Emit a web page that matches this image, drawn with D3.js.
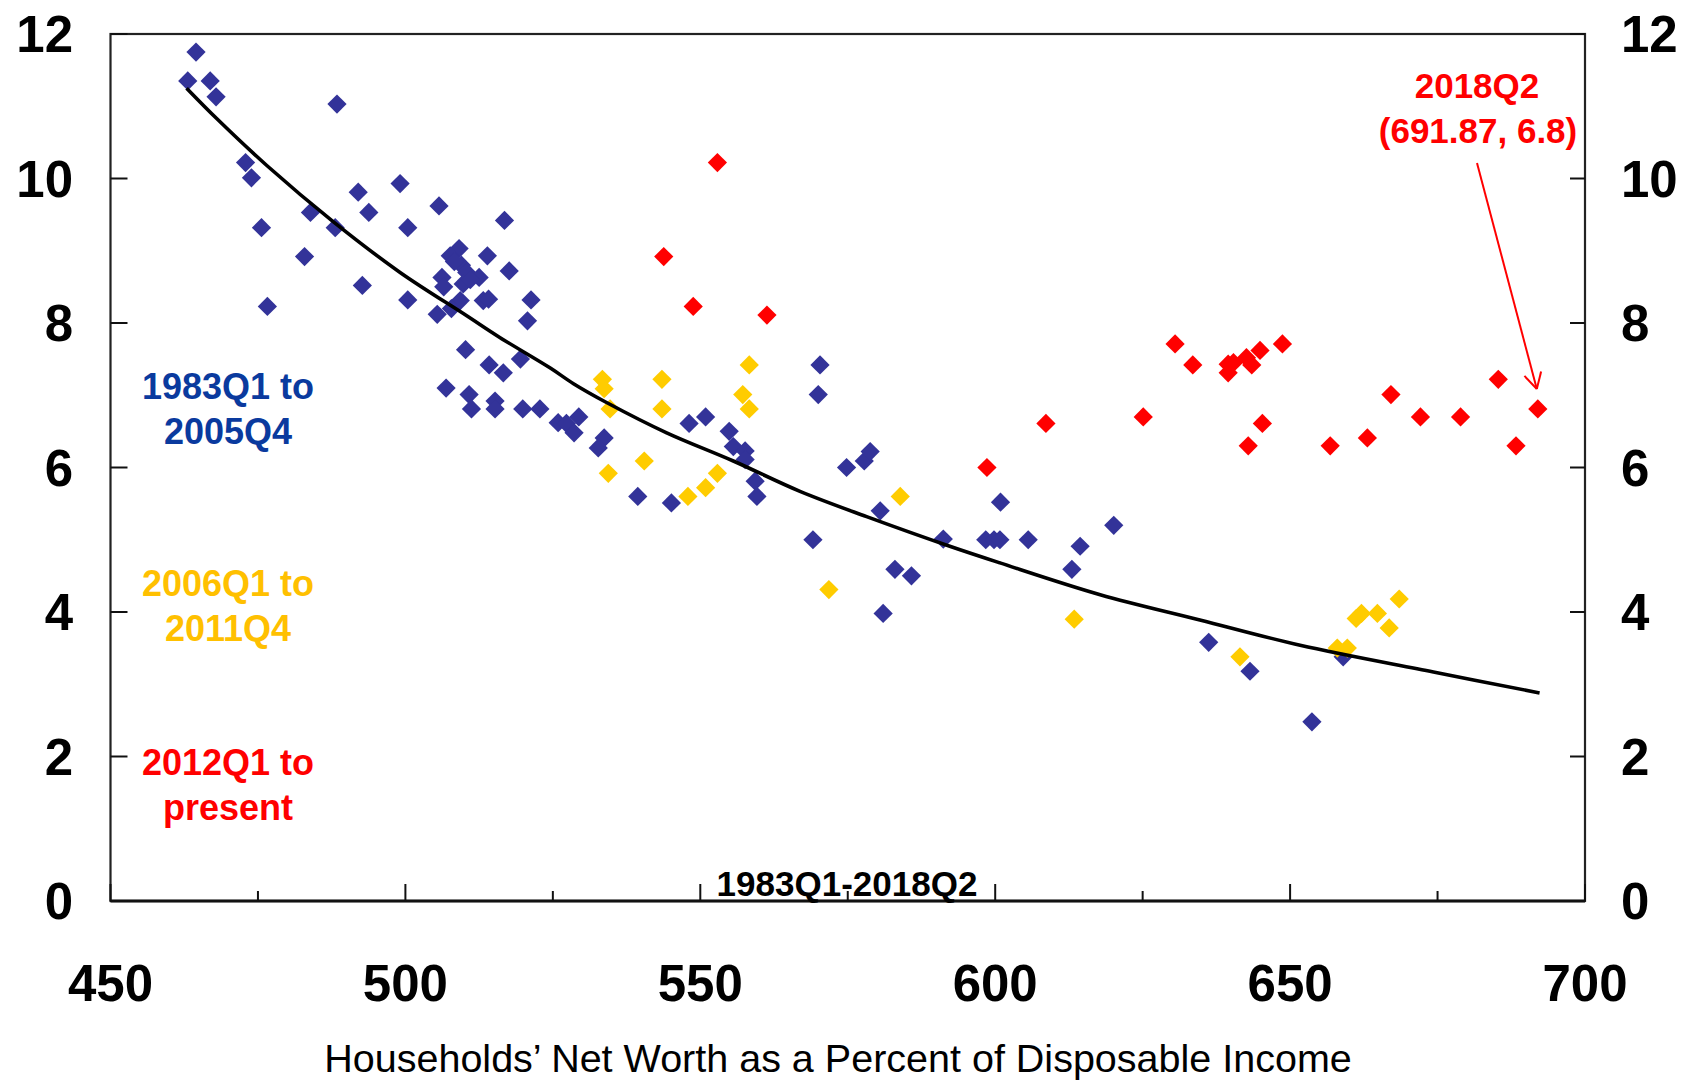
<!DOCTYPE html>
<html>
<head>
<meta charset="utf-8">
<script src="https://cdn.jsdelivr.net/npm/d3@7"></script>
<style>
  body { margin: 0; background: #fff; }
  text { font-family: "Liberation Sans", Arial, Helvetica, sans-serif; }
</style>
</head>
<body>
<div id="root"></div>
<script>
// 1983Q1 - 2005Q4
var bluePts = [
  [464.5,11.75],[463.1,11.35],[466.9,11.35],[467.9,11.13],[488.4,11.03],[472.9,10.22],[473.9,10.01],
  [475.6,9.32],[476.6,8.23],[483.9,9.53],[482.9,8.92],[488.1,9.32],[492.0,9.81],[493.8,9.53],
  [492.7,8.52],[499.1,9.93],[500.4,9.32],[500.4,8.32],[505.7,9.62],[516.8,9.42],[505.4,8.12],
  [509.1,9.03],[507.6,8.93],[513.9,8.93],[517.6,8.72],[509.5,8.80],[510.4,8.70],[506.2,8.63],
  [512.5,8.63],[506.5,8.50],[509.8,8.54],[509.3,8.31],[513.2,8.31],[514.1,8.33],[507.8,8.20],
  [508.3,8.85],[511.0,8.60],[521.3,8.32],[520.7,8.03],[510.2,7.63],[514.2,7.42],[516.6,7.31],
  [519.5,7.50],[506.9,7.10],[510.8,7.01],[511.2,6.81],[515.2,6.92],[515.2,6.81],[519.9,6.81],
  [522.8,6.81],[525.9,6.62],[527.3,6.61],[529.4,6.70],[528.6,6.48],[533.7,6.41],[532.7,6.27],
  [539.4,5.60],[545.1,5.51],[548.1,6.61],[550.9,6.70],[554.9,6.50],[555.6,6.29],[557.6,6.23],
  [557.6,6.11],[559.3,5.81],[559.6,5.60],[570.3,7.42],[570.0,7.01],[574.8,6.00],[577.8,6.09],
  [578.8,6.22],[580.5,5.40],[569.1,5.00],[591.2,5.01],[583.0,4.59],[585.8,4.50],[581.0,3.98],
  [598.4,5.00],[599.8,5.00],[600.8,5.00],[600.9,5.52],[605.6,5.00],[614.4,4.91],[613.0,4.59],
  [620.1,5.20],[636.2,3.58],[643.2,3.18],[653.7,2.48],[659.0,3.38]
];
// 2006Q1 - 2011Q4
var yellowPts = [
  [533.4,7.22],[533.7,7.09],[534.7,6.81],[543.5,7.22],[543.5,6.81],[534.4,5.92],[540.5,6.09],
  [547.9,5.60],[550.9,5.72],[552.9,5.92],[558.3,7.42],[557.2,7.01],[558.3,6.81],[583.9,5.60],
  [571.8,4.31],[613.4,3.90],[641.5,3.38],[658.0,3.50],[659.7,3.50],[661.2,3.91],[662.1,3.98],
  [664.8,3.98],[666.8,3.78],[668.5,4.18]
];
// 2012Q1 - 2018Q2
var redPts = [
  [552.9,10.22],[543.8,8.92],[548.8,8.23],[561.3,8.11],[598.6,6.00],[608.6,6.61],[625.1,6.70],
  [630.5,7.71],[633.5,7.42],[639.5,7.43],[639.5,7.31],[640.4,7.45],[642.6,7.52],[643.5,7.42],
  [644.9,7.62],[648.7,7.71],[645.3,6.61],[642.9,6.30],[656.8,6.30],[663.1,6.41],[667.1,7.01],
  [672.1,6.70],[678.9,6.70],[685.3,7.22],[688.3,6.30],[692.0,6.81]
];
// fitted curve
var fitPts = [
  [462.9,11.25],[468,10.83],[476.5,10.18],[487.8,9.40],[499.1,8.70],[510.4,8.10],[516,7.80],
  [524.5,7.38],[528.5,7.16],[534.1,6.90],[544.3,6.48],[555.6,6.09],[566.9,5.67],
  [578.2,5.32],[592.3,4.91],[600.8,4.68],[617.8,4.24],[634.7,3.89],[651.7,3.54],[674.3,3.17],
  [692.3,2.88]
];
var xTicks = [450, 500, 550, 600, 650, 700];
var xMinorTicks = [475, 525, 575, 625, 675];
var yTicks = [0, 2, 4, 6, 8, 10, 12];

var width = 1681, height = 1081;
var plotL = 110.5, plotR = 1585, plotT = 34, plotB = 901;

var svg = d3.select("#root").append("svg")
    .attr("width", width)
    .attr("height", height);

var x = d3.scaleLinear().domain([450, 700]).range([plotL, plotR]);
var y = d3.scaleLinear().domain([0, 12]).range([plotB, plotT]);

// frame
svg.append("rect")
    .attr("x", plotL).attr("y", plotT)
    .attr("width", plotR - plotL).attr("height", plotB - plotT)
    .style("fill", "none").style("stroke", "#222").style("stroke-width", 2.2);
svg.append("line")
    .attr("x1", plotL).attr("x2", plotR).attr("y1", plotB).attr("y2", plotB)
    .style("stroke", "#111").style("stroke-width", 3);

// ticks (pointing inward)
var tickG = svg.append("g").style("stroke", "#111").style("stroke-width", 2);
tickG.selectAll(".xmaj").data(xTicks).enter().append("line")
    .attr("x1", function (d) { return x(d); }).attr("x2", function (d) { return x(d); })
    .attr("y1", plotB).attr("y2", plotB - 17);
tickG.selectAll(".xmin").data(xMinorTicks).enter().append("line")
    .attr("x1", function (d) { return x(d); }).attr("x2", function (d) { return x(d); })
    .attr("y1", plotB).attr("y2", plotB - 10);
tickG.selectAll(".yl").data(yTicks).enter().append("line")
    .attr("x1", plotL).attr("x2", plotL + 17)
    .attr("y1", function (d) { return y(d); }).attr("y2", function (d) { return y(d); });
tickG.selectAll(".yr").data(yTicks).enter().append("line")
    .attr("x1", plotR).attr("x2", plotR - 15)
    .attr("y1", function (d) { return y(d); }).attr("y2", function (d) { return y(d); });

// tick labels
svg.selectAll(".xlab").data(xTicks).enter().append("text")
    .attr("x", function (d) { return x(d); })
    .attr("y", 1001)
    .attr("text-anchor", "middle")
    .style("font-size", "51px").style("font-weight", "bold")
    .text(function (d) { return d; });
svg.selectAll(".ylabL").data(yTicks).enter().append("text")
    .attr("x", 73)
    .attr("y", function (d) { return y(d) + 18; })
    .attr("text-anchor", "end")
    .style("font-size", "51px").style("font-weight", "bold")
    .text(function (d) { return d; });
svg.selectAll(".ylabR").data(yTicks).enter().append("text")
    .attr("x", 1621)
    .attr("y", function (d) { return y(d) + 18; })
    .attr("text-anchor", "start")
    .style("font-size", "51px").style("font-weight", "bold")
    .text(function (d) { return d; });

svg.append("text")
    .attr("x", 838).attr("y", 1072)
    .attr("text-anchor", "middle")
    .style("font-size", "39.5px")
    .text("Households\u2019 Net Worth as a Percent of Disposable Income");

svg.append("text")
    .attr("x", 847).attr("y", 896)
    .attr("text-anchor", "middle")
    .style("font-size", "35px").style("font-weight", "bold")
    .text("1983Q1-2018Q2");

// markers
var diamond = d3.symbol().type(d3.symbolSquare).size(185);
function drawPts(data, color) {
  svg.append("g").selectAll("path").data(data).enter().append("path")
      .attr("d", diamond)
      .attr("transform", function (d) {
        return "translate(" + x(d[0]) + "," + y(d[1]) + ") rotate(45)";
      })
      .style("fill", color);
}
drawPts(bluePts, "#333399");
drawPts(yellowPts, "#FFCC00");
drawPts(redPts, "#FF0000");

// fitted line
var line = d3.line()
    .x(function (d) { return x(d[0]); })
    .y(function (d) { return y(d[1]); })
    .curve(d3.curveCatmullRom);
svg.append("path")
    .datum(fitPts)
    .attr("d", line)
    .style("fill", "none").style("stroke", "#000").style("stroke-width", 3.6);

// period labels
var groups = [
  { lines: ["1983Q1 to", "2005Q4"], color: "#0A3A9E", y0: 399 },
  { lines: ["2006Q1 to", "2011Q4"], color: "#FFC000", y0: 596 },
  { lines: ["2012Q1 to", "present"], color: "#FF0000", y0: 775 }
];
groups.forEach(function (g) {
  g.lines.forEach(function (t, i) {
    svg.append("text")
        .attr("x", 228).attr("y", g.y0 + i * 44.5)
        .attr("text-anchor", "middle")
        .style("font-size", "36px").style("font-weight", "bold")
        .style("fill", g.color)
        .text(t);
  });
});

// annotation for last point
var last = redPts[redPts.length - 1];
svg.append("text")
    .attr("x", 1477).attr("y", 98)
    .attr("text-anchor", "middle")
    .style("font-size", "35px").style("font-weight", "bold").style("fill", "#FF0000")
    .text("2018Q2");
svg.append("text")
    .attr("x", 1478).attr("y", 143)
    .attr("text-anchor", "middle")
    .style("font-size", "35px").style("font-weight", "bold").style("fill", "#FF0000")
    .text("(691.87, 6.8)");
var tipX = x(last[0]) - 1, tipY = y(last[1]) - 20;
var sx = 1477, sy = 163;
svg.append("line")
    .attr("x1", sx).attr("y1", sy).attr("x2", tipX).attr("y2", tipY)
    .style("stroke", "#FF0000").style("stroke-width", 2);
var ang = Math.atan2(tipY - sy, tipX - sx);
[0.5, -0.5].forEach(function (da) {
  svg.append("line")
      .attr("x1", tipX).attr("y1", tipY)
      .attr("x2", tipX - 18 * Math.cos(ang + da))
      .attr("y2", tipY - 18 * Math.sin(ang + da))
      .style("stroke", "#FF0000").style("stroke-width", 2);
});
</script>
</body>
</html>
